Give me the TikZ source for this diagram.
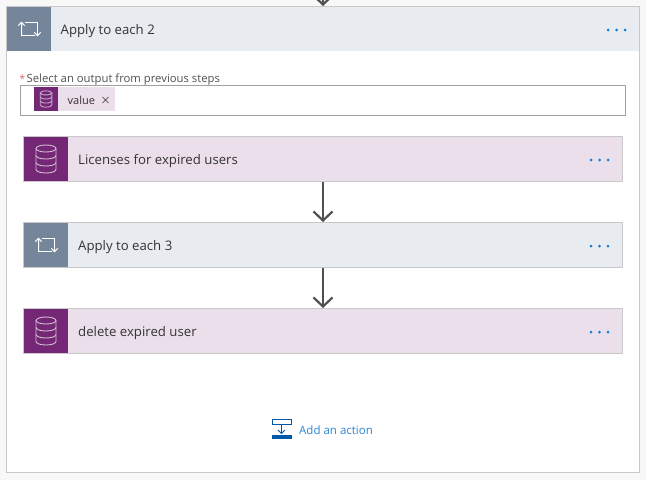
\documentclass[tikz,border=0pt]{standalone}
\usepackage{fontspec}
\setmainfont{Open Sans}
\usetikzlibrary{arrows.meta}
\definecolor{pagebg}{HTML}{F8F8F8}
\definecolor{edge}{HTML}{C8C8C8}
\definecolor{greyhead}{HTML}{E8EBEF}
\definecolor{greyicon}{HTML}{75869A}
\definecolor{purplehead}{HTML}{EBDFEB}
\definecolor{purpleicon}{HTML}{742774}
\definecolor{inputedge}{HTML}{A0A0A0}
\definecolor{ink}{HTML}{333333}
\definecolor{dotblue}{HTML}{0F7FDC}
\definecolor{linkblue}{HTML}{2A85D8}
\definecolor{actionblue}{HTML}{0058AD}
\definecolor{flowgrey}{HTML}{505050}
\definecolor{starred}{HTML}{E06060}
\tikzset{
  x=1pt,y=-1pt,
  cardbox/.style={draw=edge,line width=1pt,anchor=north west,minimum width=599pt,minimum height=45pt,inner sep=0pt,outer sep=0pt},
  iconbox/.style={anchor=north west,minimum width=44pt,minimum height=44pt,inner sep=0pt,outer sep=0pt},
  title/.style={anchor=west,text=ink,font=\fontsize{13.2}{15}\selectfont,inner sep=0pt},
  flow/.style={draw=flowgrey,line width=2.4pt,-{Straight Barb[length=9pt,width=19pt,line width=2.2pt]},shorten >=0.5pt}
}
\newcommand{\threedots}[2]{%
  \fill[dotblue] (#1,#2) circle (1.5) (#1+8.5,#2) circle (1.5) (#1+17,#2) circle (1.5);}
\newcommand{\loopicon}[2]{%
  \begin{scope}[shift={(#1,#2)},draw=white,line width=1pt]
    \draw (-8,7) -- (-8,-6.5) (-11.2,-3.3) -- (-8,-6.7) -- (-4.8,-3.3);
    \draw (-5,-6.5) -- (8,-6.5) -- (8,6.5);
    \draw (4.8,3.3) -- (8,6.7) -- (11.2,3.3);
    \draw (-8,6.5) -- (5,6.5);
  \end{scope}}
\newcommand{\dbicon}[4]{%
  \begin{scope}[shift={(#1,#2)},scale=#3,draw=#4,line width=0.9pt]
    \draw (0,-10.5) ellipse (10 and 3.5);
    \draw (-10,-10.5) -- (-10,10.5) arc[start angle=180,end angle=360,x radius=10,y radius=-3.5] -- (10,-10.5);
    \draw (-10,-3.5) arc[start angle=180,end angle=360,x radius=10,y radius=-3.5];
    \draw (-10,3.5) arc[start angle=180,end angle=360,x radius=10,y radius=-3.5];
  \end{scope}}
\begin{document}
\begin{tikzpicture}
\useasboundingbox (0,0) rectangle (646,480);
\fill[pagebg] (0,0) rectangle (646,480);
% outer card
\node[draw=edge,line width=1pt,fill=white,anchor=north west,minimum width=633pt,minimum height=465.5pt,inner sep=0pt,outer sep=0pt] (outer) at (6.5,6.5) {};
\fill[greyhead] (7,7) rectangle (639,50.5);
\node[iconbox,fill=greyicon,minimum height=43.5pt] (outericon) at (7,7) {};
\loopicon{29.5}{29}
\node[title] (outertitle) at (60.5,31.2) {Apply to each 2};
\threedots{608}{30}
% input
\node[anchor=west,inner sep=0pt,text=starred,font=\fontsize{10}{12}\selectfont] (star) at (19.5,78.5) {*};
\node[anchor=west,inner sep=0pt,text=ink!85,font=\fontsize{11.3}{13}\selectfont] (sel) at (26.5,79.5) {Select an output from previous steps};
\node[draw=inputedge,line width=1pt,anchor=north west,minimum width=605pt,minimum height=29.5pt,inner sep=0pt,outer sep=0pt] (input) at (20.5,85.5) {};
\fill[purplehead] (34,87) rectangle (115,111);
\node[iconbox,fill=purpleicon,minimum width=24pt,minimum height=24pt] (chipicon) at (34,87) {};
\dbicon{46}{99}{0.58}{white!60!purpleicon}
\node[anchor=west,inner sep=0pt,text=ink,font=\fontsize{11}{13}\selectfont] (chiptext) at (67.5,100.5) {value};
\draw[ink,line width=0.7pt] (102.5,97) -- (108.5,103) (108.5,97) -- (102.5,103);
% cards
\node[cardbox,fill=purplehead] (c1) at (23.5,136.5) {};
\node[iconbox,fill=purpleicon] (c1i) at (24,137) {};
\dbicon{46}{159}{1}{white!70!purpleicon}
\node[title] (c1t) at (78,161.5) {Licenses for expired users};
\threedots{591}{160}
\node[cardbox,fill=greyhead] (c2) at (23.5,222.5) {};
\node[iconbox,fill=greyicon] (c2i) at (24,223) {};
\loopicon{46.5}{245}
\node[title] (c2t) at (78,247.5) {Apply to each 3};
\threedots{591}{246}
\node[cardbox,fill=purplehead] (c3) at (23.5,308.5) {};
\node[iconbox,fill=purpleicon] (c3i) at (24,309) {};
\dbicon{46}{331}{1}{white!70!purpleicon}
\node[title] (c3t) at (78,333.5) {delete expired user};
\threedots{591}{332}
% connectors
\coordinate (topfree) at (323,-8);
\draw[flow] (topfree) -- (outer.north -| topfree) ;
\draw[flow] (c1.south) -- (c2.north);
\draw[flow] (c2.south) -- (c3.north);
% add action
\node[draw=actionblue,line width=1pt,fill=white,anchor=north west,minimum width=19pt,minimum height=4.5pt,inner sep=0pt,outer sep=0pt] (addtop) at (272.5,419.5) {};
\node[fill=actionblue,anchor=north west,minimum width=20pt,minimum height=4pt,inner sep=0pt,outer sep=0pt] (addbar) at (272,435) {};
\draw[actionblue,line width=0.9pt] (281.5,424) -- (281.5,433.5) (278,430) -- (281.5,433.5) -- (285,430);
\node[anchor=west,inner sep=0pt,text=linkblue,font=\fontsize{11.5}{13}\selectfont] (addtext) at (299,430) {Add an action};
\end{tikzpicture}
\end{document}
